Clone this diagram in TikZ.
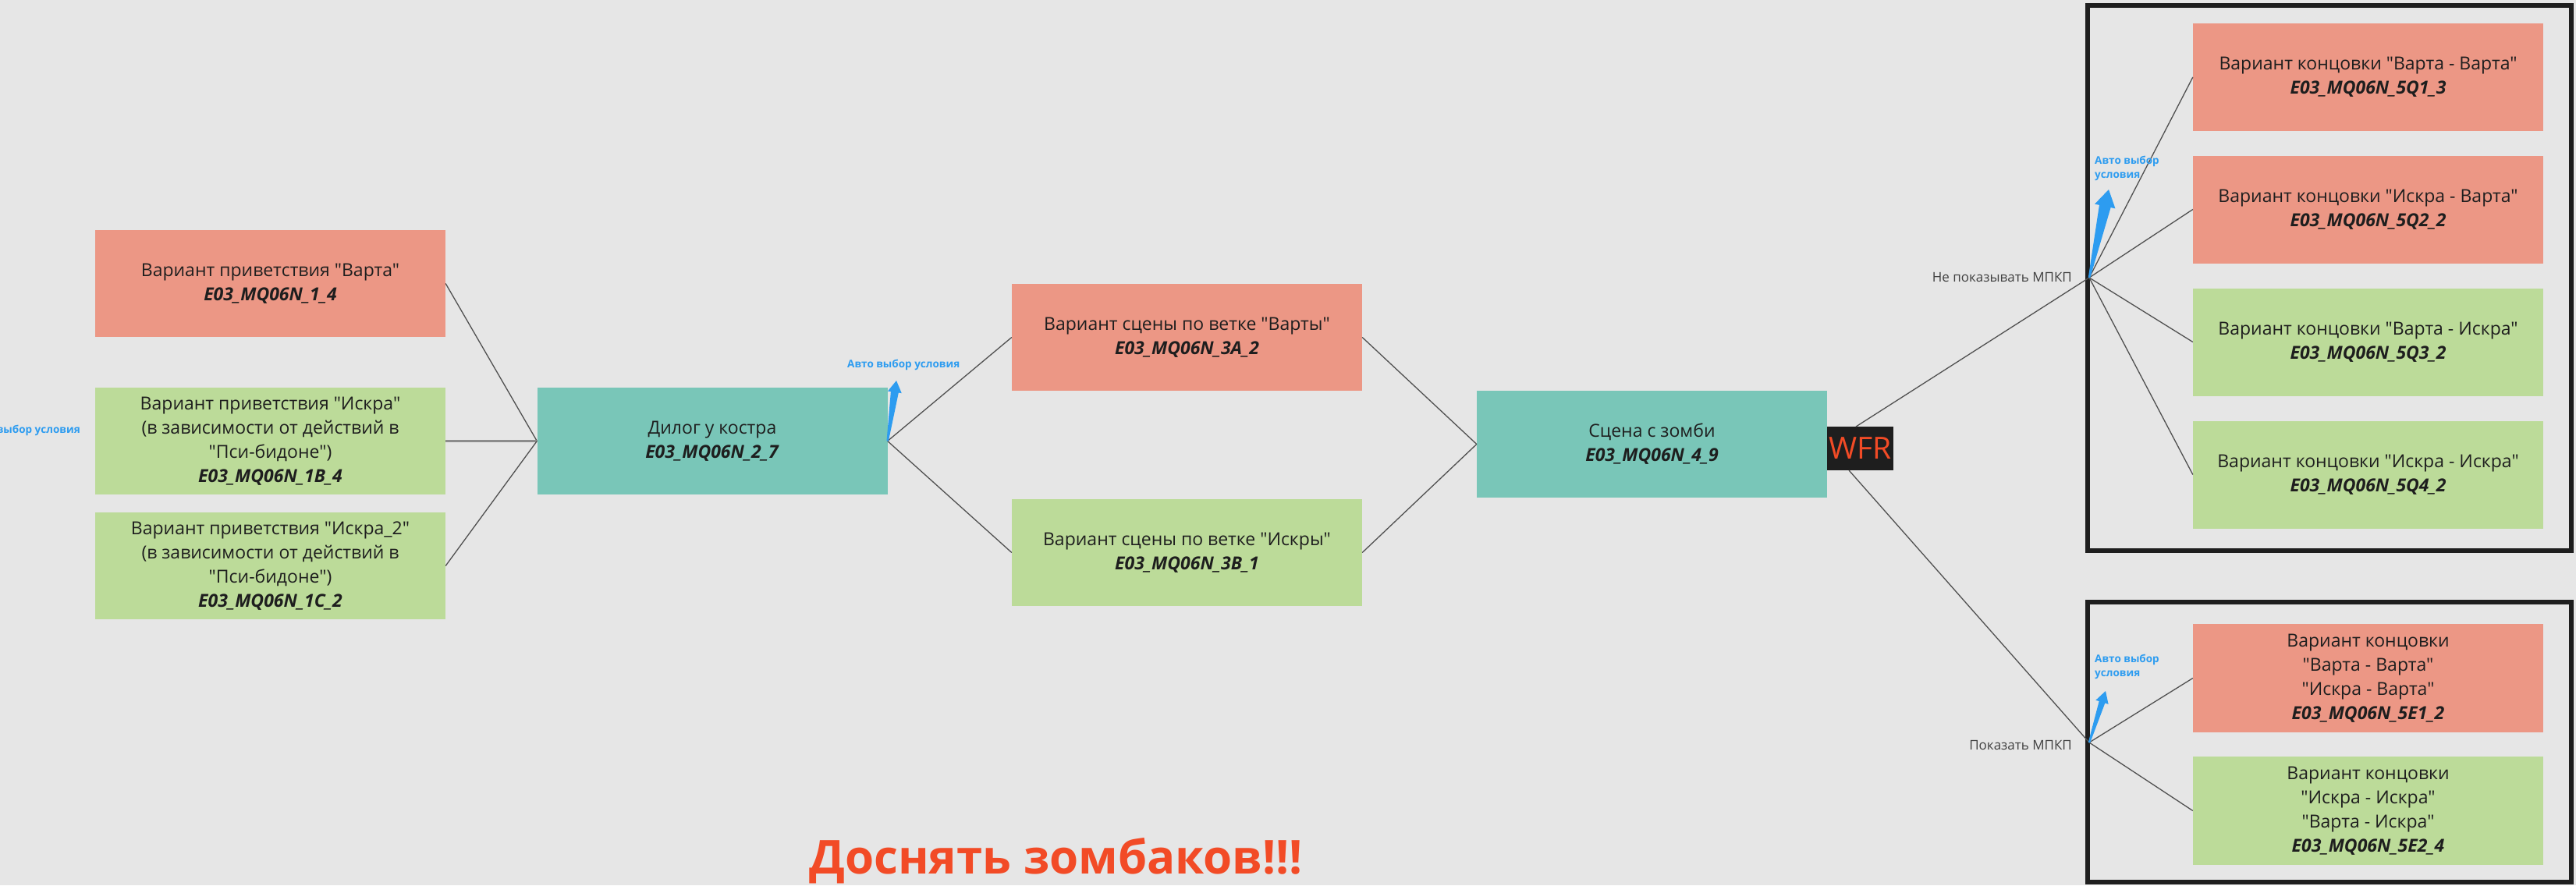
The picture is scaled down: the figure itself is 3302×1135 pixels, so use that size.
\documentclass[tikz,border=0pt]{standalone}
\usepackage{fontspec}
\setmainfont{Open Sans}[Ligatures=TeXOff]
\usetikzlibrary{arrows.meta,calc}
\definecolor{bgc}{HTML}{E6E6E6}
\definecolor{redc}{HTML}{EC9785}
\definecolor{greenc}{HTML}{BCDB99}
\definecolor{tealc}{HTML}{79C6B8}
\definecolor{bluec}{HTML}{2D9CF0}
\definecolor{titlec}{HTML}{F24B26}
\definecolor{framec}{HTML}{1E1E1E}
\definecolor{linec}{HTML}{505050}
\definecolor{txtc}{HTML}{1E1E1E}
\newcommand{\code}[1]{\textbf{\textit{#1}}}
% tapered arrow: start, tip, base half-width, neck half-width, head half-width, head length
\newcommand{\taperarrow}[6]{%
  \path ($(#2)!#6!(#1)$) coordinate (tn);
  \fill[bluec] ($(#1)!#3!90:(#2)$) -- ($(tn)!#4!90:(#2)$) -- ($(tn)!#5!90:(#2)$) -- (#2)
    -- ($(tn)!#5!-90:(#2)$) -- ($(tn)!#4!-90:(#2)$) -- ($(#1)!#3!-90:(#2)$) -- cycle;}
\tikzset{
  box/.style={rectangle, minimum width=449pt, minimum height=137pt, inner sep=0pt,
    align=center, text=txtc, font=\fontsize{23}{31}\selectfont},
  redbox/.style={box, fill=redc},
  greenbox/.style={box, fill=greenc},
  tealbox/.style={box, fill=tealc},
  conn/.style={draw=linec, line width=1.3pt},
  thickconn/.style={draw=gray!90, line width=3pt},
  autolabel/.style={text=bluec, font=\bfseries\fontsize{13.5}{18}\selectfont, inner sep=0pt},
  condlabel/.style={text=txtc!85, font=\fontsize{17}{20}\selectfont, inner sep=0pt, anchor=east},
  frame/.style={draw=framec, line width=6pt}
}
\begin{document}
\begin{tikzpicture}[x=1pt,y=-1pt]
\fill[bgc] (0,0) rectangle (3302,1135);
\useasboundingbox (0,0) rectangle (3302,1135);
\clip (0,0) rectangle (3302,1135);

% frames
\draw[frame] (2676,7) rectangle (3296,706);
\draw[frame] (2676,772) rectangle (3296,1131);

% greeting boxes
\node[redbox] (g1) at (346.5,363.5) {Вариант приветствия "Варта"\\\code{E03\_MQ06N\_1\_4}};
\node[greenbox] (g2) at (346.5,565.5) {Вариант приветствия "Искра"\\(в зависимости от действий в\\"Пси-бидоне")\\\code{E03\_MQ06N\_1B\_4}};
\node[greenbox] (g3) at (346.5,725.5) {Вариант приветствия "Искра\_2"\\(в зависимости от действий в\\"Пси-бидоне")\\\code{E03\_MQ06N\_1C\_2}};

\node[tealbox] (dlg) at (913,565.5) {Дилог у костра\\\code{E03\_MQ06N\_2\_7}};

\node[redbox] (sA) at (1521.5,432.5) {Вариант сцены по ветке "Варты"\\\code{E03\_MQ06N\_3A\_2}};
\node[greenbox] (sB) at (1521.5,708.5) {Вариант сцены по ветке "Искры"\\\code{E03\_MQ06N\_3B\_1}};

\node[tealbox] (zom) at (2117.5,569.5) {Сцена с зомби\\\code{E03\_MQ06N\_4\_9}};
\node[fill=framec, minimum width=85pt, minimum height=56pt, inner sep=0pt, text=titlec,
  font=\fontsize{39}{40}\selectfont] (wfr) at (2384.5,575) {WFR};

% endings
\node[redbox, minimum height=138pt] (e1) at (3035.5,99) {Вариант концовки "Варта - Варта"\\\code{E03\_MQ06N\_5Q1\_3}};
\node[redbox, minimum height=138pt] (e2) at (3035.5,268.5) {Вариант концовки "Искра - Варта"\\\code{E03\_MQ06N\_5Q2\_2}};
\node[greenbox, minimum height=138pt] (e3) at (3035.5,438.5) {Вариант концовки "Варта - Искра"\\\code{E03\_MQ06N\_5Q3\_2}};
\node[greenbox, minimum height=138pt] (e4) at (3035.5,608.5) {Вариант концовки "Искра - Искра"\\\code{E03\_MQ06N\_5Q4\_2}};

\node[redbox, minimum height=139pt] (e5) at (3035.5,869.5) {Вариант концовки\\"Варта - Варта"\\"Искра - Варта"\\\code{E03\_MQ06N\_5E1\_2}};
\node[greenbox, minimum height=139pt] (e6) at (3035.5,1039.5) {Вариант концовки\\"Искра - Искра"\\"Варта - Искра"\\\code{E03\_MQ06N\_5E2\_4}};

% junctions
\coordinate (j1) at (2678,356);
\coordinate (j2) at (2678,952);
\coordinate (wt) at (2379,547);
\coordinate (wb) at (2370,603);

% connectors
\draw[conn] (g1.east) -- (dlg.west);
\draw[thickconn] (g2.east) -- (dlg.west);
\draw[conn] (g3.east) -- (dlg.west);
\draw[conn] (dlg.east) -- (sA.west);
\draw[conn] (dlg.east) -- (sB.west);
\draw[conn] (sA.east) -- (zom.west);
\draw[conn] (sB.east) -- (zom.west);
\draw[conn] (wt) -- (j1);
\draw[conn] (wb) -- (j2);
\foreach \e in {e1,e2,e3,e4} \draw[conn] (j1) -- (\e.west);
\foreach \e in {e5,e6} \draw[conn] (j2) -- (\e.west);

% auto arrows (tapered)
\coordinate (a1) at (1149,488);
\coordinate (a2) at (2703,243);
\coordinate (a3) at (2699,886);
\taperarrow{dlg.east}{a1}{1.2pt}{5pt}{9pt}{15pt}
\taperarrow{j1}{a2}{1.2pt}{7.5pt}{13.5pt}{22pt}
\taperarrow{j2}{a3}{1.2pt}{4pt}{8.5pt}{15pt}

% labels
\node[autolabel, anchor=east] (la0) at (103,552) {Авто выбор условия};
\node[autolabel, anchor=west] (la1) at (1086,468) {Авто выбор условия};
\node[autolabel, anchor=north west, align=left] (la2) at (2685,200) {Авто выбор\\условия};
\node[autolabel, anchor=north west, align=left] (la3) at (2685,839) {Авто выбор\\условия};
\node[condlabel] (c1) at (2656,356) {Не показывать МПКП};
\node[condlabel] (c2) at (2656,956) {Показать МПКП};

% title
\node[text=titlec, font=\bfseries\fontsize{60}{66}\selectfont, anchor=base, inner sep=0pt] (title) at (1353.5,1120) {Доснять зомбаков!!!};
\end{tikzpicture}
\end{document}
